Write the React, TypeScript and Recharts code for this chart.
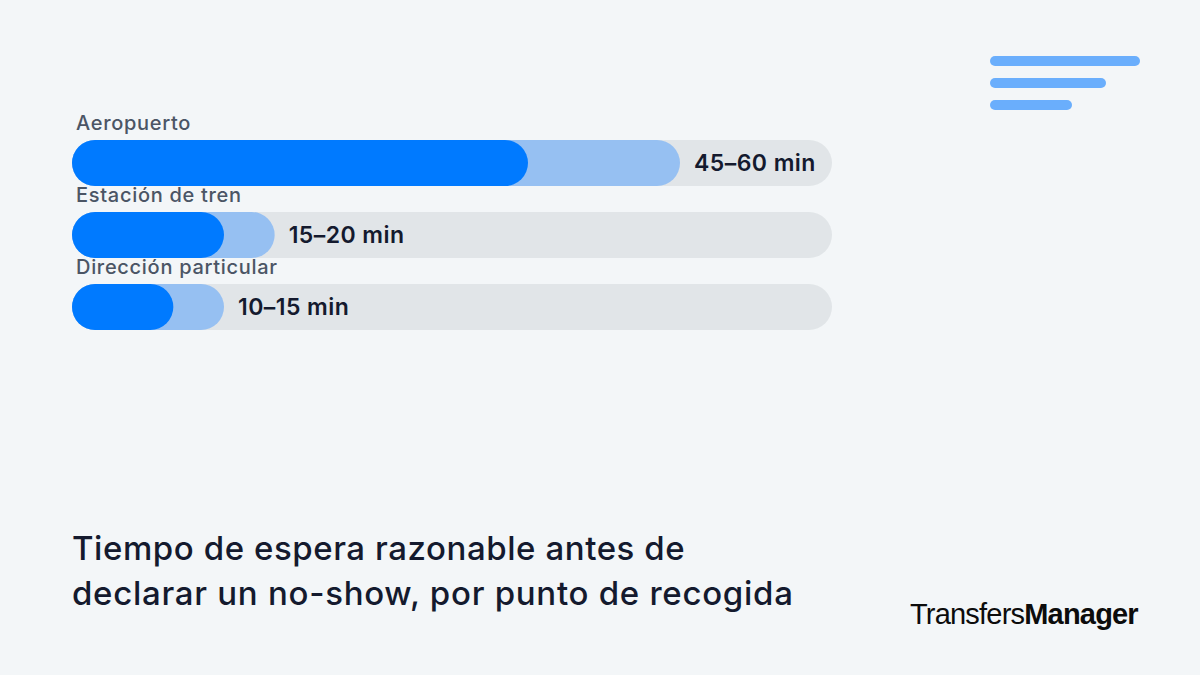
import { BarChart, Bar, XAxis, YAxis, LabelList } from "recharts";

const categories = ["Aeropuerto", "Estación de tren", "Dirección particular"];
const minWait = [45, 15, 10];
const maxWait = [60, 20, 15];
const rangeLabels = ["45–60 min", "15–20 min", "10–15 min"];
const iconWidths = [150, 116, 82];
const titleLines = ["Tiempo de espera razonable antes de", "declarar un no-show, por punto de recogida"];
const titleSpacing = [0.57, 0.72];

const data = categories.map((label, i) => ({
  label,
  minWait: minWait[i],
  maxWait: maxWait[i],
  range: rangeLabels[i],
}));

const FONT = "Inter, sans-serif";

function CategoryLabel({ x, y, value }: any) {
  return (
    <text x={x + 4} y={y - 10} fontFamily={FONT} fontSize={20} fontWeight={500} letterSpacing={0.7} fill="#4b5565">
      {value}
    </text>
  );
}

function RangeLabel({ x, y, width, height, value }: any) {
  return (
    <text
      x={x + width + 14}
      y={y + height / 2 + 8}
      fontFamily={FONT}
      fontSize={23}
      fontWeight={600}
      letterSpacing={0.45}
      fill="#141a2e"
    >
      {value}
    </text>
  );
}

export default function App() {
  return (
    <div style={{ position: "fixed", left: 0, top: 0, width: 1200, height: 675, background: "#f3f6f8", overflow: "hidden" }}>
      <BarChart
        width={1200}
        height={675}
        data={data}
        layout="vertical"
        barSize={46}
        barGap={-46}
        margin={{ top: 127, right: 368, bottom: 332, left: 72 }}
      >
        <XAxis type="number" domain={[0, 75]} hide />
        <YAxis type="category" dataKey="label" hide />
        <Bar
          dataKey="maxWait"
          fill="#96c0f2"
          radius={23}
          background={{ fill: "#e1e5e8", radius: 23 } as any}
          isAnimationActive={false}
        >
          <LabelList dataKey="range" content={RangeLabel} />
        </Bar>
        <Bar dataKey="minWait" fill="#007aff" radius={23} isAnimationActive={false}>
          <LabelList dataKey="label" content={CategoryLabel} />
        </Bar>
      </BarChart>

      {iconWidths.map((w, i) => (
        <div
          key={i}
          style={{
            position: "absolute",
            left: 990,
            top: 56 + i * 22,
            width: w,
            height: 10,
            borderRadius: 5,
            background: "#6aaefc",
          }}
        />
      ))}

      {titleLines.map((line, i) => (
        <div
          key={i}
          style={{
            position: "absolute",
            left: 72,
            top: 526 + i * 45,
            fontFamily: FONT,
            fontSize: 33,
            lineHeight: "44px",
            fontWeight: 500,
            letterSpacing: titleSpacing[i],
            color: "#141a2e",
            whiteSpace: "nowrap",
          }}
        >
          {line}
        </div>
      ))}

      <div
        style={{
          position: "absolute",
          left: 910,
          top: 597,
          fontFamily: "'Liberation Sans', sans-serif",
          fontSize: 29,
          lineHeight: "34px",
          letterSpacing: -0.8,
          color: "#0c0c0c",
          whiteSpace: "nowrap",
        }}
      >
        Transfers<b>Manager</b>
      </div>
    </div>
  );
}
